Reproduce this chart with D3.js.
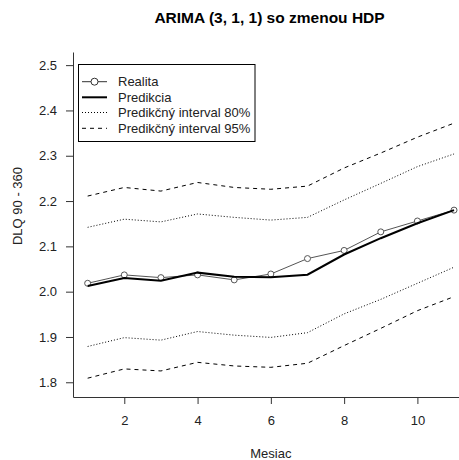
<!DOCTYPE html>
<html><head><meta charset="utf-8">
<script src="https://cdn.jsdelivr.net/npm/d3@7"></script>
<style>body{margin:0;background:#fff}svg{display:block}text{font-family:"Liberation Sans",Arial,sans-serif}</style>
</head><body>
<script>
const months = [1,2,3,4,5,6,7,8,9,10,11];
const realita =   [2.0185,2.037,2.031,2.037,2.026,2.039,2.073,2.091,2.132,2.156,2.180];
const predikcia = [2.0125,2.030,2.024,2.042,2.033,2.032,2.0375,2.082,2.118,2.151,2.180];
const upper80 =   [2.142,2.160,2.154,2.1715,2.164,2.158,2.164,2.2025,2.239,2.276,2.304];
const lower80 =   [1.879,1.8985,1.893,1.912,1.904,1.899,1.9095,1.951,1.983,2.0185,2.054];
const upper95 =   [2.211,2.230,2.222,2.241,2.230,2.226,2.233,2.273,2.306,2.341,2.372];
const lower95 =   [1.809,1.8295,1.825,1.844,1.836,1.833,1.842,1.881,1.919,1.958,1.989];
const xTicks = [2,4,6,8,10];
const yTicks = [1.8,1.9,2.0,2.1,2.2,2.3,2.4,2.5];
const legendLabels = ["Realita","Predikcia","Predikčný interval 80%","Predikčný interval 95%"];
const title = "ARIMA (3, 1, 1) so zmenou HDP";

const W=459,H=460;
const svg=d3.select("body").append("svg").attr("width",W).attr("height",H);
const x=d3.scaleLinear().domain([0.6,11.4]).range([73,468.7]);
const y=d3.scaleLinear().domain([1.7675,2.529]).range([397,52]);
const txt="#222", axc="#333";

// axes
const gx=svg.append("g").attr("transform","translate(0,397)")
  .call(d3.axisBottom(x).tickValues(xTicks).tickSize(7).tickPadding(12).tickSizeOuter(0));
const gy=svg.append("g").attr("transform","translate(73,0)")
  .call(d3.axisLeft(y).tickValues(yTicks).tickSize(7).tickPadding(9).tickFormat(d3.format(".1f")).tickSizeOuter(0));
[gx,gy].forEach(g=>{
  g.selectAll("path,line").attr("stroke",axc);
  g.selectAll("text").attr("fill",txt).style("font-size","13px").style("font-family","'Liberation Sans',Arial,sans-serif");
});

const line=d3.line().x((d,i)=>x(months[i])).y(d=>y(d));
const series=[
  {v:upper95,dash:"4,4",w:1,c:"#000"},
  {v:lower95,dash:"4,4",w:1,c:"#000"},
  {v:upper80,dash:"1,2",w:1,c:"#000"},
  {v:lower80,dash:"1,2",w:1,c:"#000"},
  {v:realita,dash:null,w:1,c:"#555"}
];
series.forEach(s=>{
  svg.append("path").datum(s.v).attr("d",line).attr("fill","none")
    .attr("stroke",s.c).attr("stroke-width",s.w).attr("stroke-dasharray",s.dash);
});
svg.append("g").selectAll("circle").data(realita).join("circle")
  .attr("cx",(d,i)=>x(months[i])).attr("cy",d=>y(d)).attr("r",3)
  .attr("fill","#fff").attr("stroke","#555").attr("stroke-width",1);
svg.append("path").datum(predikcia).attr("d",line).attr("fill","none").attr("stroke","#000").attr("stroke-width",2);

// title & labels
svg.append("text").attr("x",269.5).attr("y",22.5).attr("text-anchor","middle")
  .style("font-size","15.5px").style("font-weight","bold").attr("fill","#000").text(title);
svg.append("text").attr("x",270.8).attr("y",458).attr("text-anchor","middle")
  .style("font-size","13px").attr("fill",txt).text("Mesiac");
svg.append("text").attr("transform","translate(22,206) rotate(-90)").attr("text-anchor","middle")
  .style("font-size","13px").attr("fill",txt).text("DLQ 90 - 360");

// legend
const lg=svg.append("g");
lg.append("rect").attr("x",78.5).attr("y",64.5).attr("width",176.5).attr("height",77)
  .attr("fill","#fff").attr("stroke","#000").attr("stroke-width",1);
const ly=[81.7,97.3,112.5,128.3];
const lstyles=[{dash:null,w:1,c:"#333"},{dash:null,w:2,c:"#000"},{dash:"1,2",w:1,c:"#000"},{dash:"4,4",w:1,c:"#000"}];
legendLabels.forEach((t,i)=>{
  lg.append("line").attr("x1",82).attr("x2",107).attr("y1",ly[i]).attr("y2",ly[i])
    .attr("stroke",lstyles[i].c).attr("stroke-width",lstyles[i].w).attr("stroke-dasharray",lstyles[i].dash);
  if(i===0) lg.append("circle").attr("cx",94.5).attr("cy",ly[i]).attr("r",3.5).attr("fill","#fff").attr("stroke","#333");
  lg.append("text").attr("x",118).attr("y",ly[i]+4.6).style("font-size","13px").attr("fill",txt).text(t);
});
</script>
</body></html>
